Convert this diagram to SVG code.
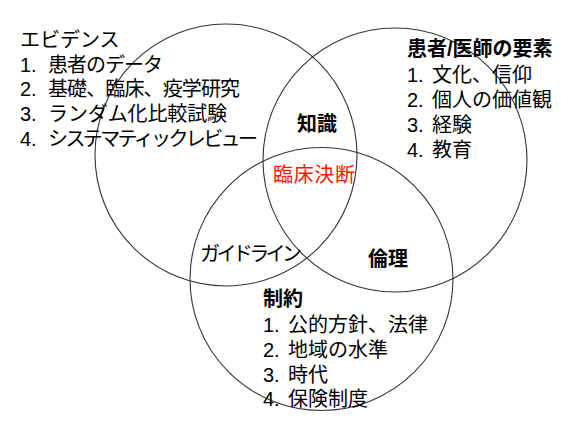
<svg xmlns="http://www.w3.org/2000/svg" width="585" height="422" viewBox="0 0 585 422">
<style>
.c{fill:none;stroke:#333;stroke-width:1.1}
text{font-family:"Liberation Sans","Noto Sans CJK JP",sans-serif;font-size:20px;fill:#000}
.b{font-weight:bold}
.red{fill:#ff1500}
</style>
<rect width="585" height="422" fill="#fff"/>
<g id="circles">
<circle id="circle-evidence" class="c" cx="226" cy="155" r="131"/>
<circle id="circle-patient" class="c" cx="395" cy="160" r="132"/>
<circle id="circle-constraint" class="c" cx="321.5" cy="279" r="131.5"/>
</g>
<g id="node-evidence">
<text x="20" y="46.5">エビデンス</text>
<text x="20" y="71.5">1.<tspan x="48" textLength="115">患者のデータ</tspan></text>
<text x="20" y="96">2.<tspan x="48" textLength="192">基礎、臨床、疫学研究</tspan></text>
<text x="20" y="121">3.<tspan x="48" textLength="179">ランダム化比較試験</tspan></text>
<text x="20" y="146">4.<tspan x="48" textLength="210">システマティックレビュー</tspan></text>
</g>
<g id="node-patient">
<text class="b" x="407" y="56">患者/医師の要素</text>
<text x="407" y="82">1.<tspan x="432">文化、信仰</tspan></text>
<text x="407" y="107">2.<tspan x="432">個人の価値観</tspan></text>
<text x="407" y="132">3.<tspan x="432">経験</tspan></text>
<text x="407" y="157">4.<tspan x="432">教育</tspan></text>
</g>
<g id="node-constraint">
<text class="b" x="263" y="305.5">制約</text>
<text x="263" y="332">1.<tspan x="288">公的方針、法律</tspan></text>
<text x="263" y="357">2.<tspan x="288">地域の水準</tspan></text>
<text x="263" y="381.5">3.<tspan x="288">時代</tspan></text>
<text x="263" y="406">4.<tspan x="288">保険制度</tspan></text>
</g>
<g id="node-knowledge"><text class="b" x="297" y="131">知識</text></g>
<g id="node-decision"><text class="red" x="273" y="181.5" textLength="82">臨床決断</text></g>
<g id="node-guideline"><text x="200" y="260.5" textLength="102">ガイドライン</text></g>
<g id="node-ethics"><text class="b" x="368" y="265.5">倫理</text></g>
</svg>
